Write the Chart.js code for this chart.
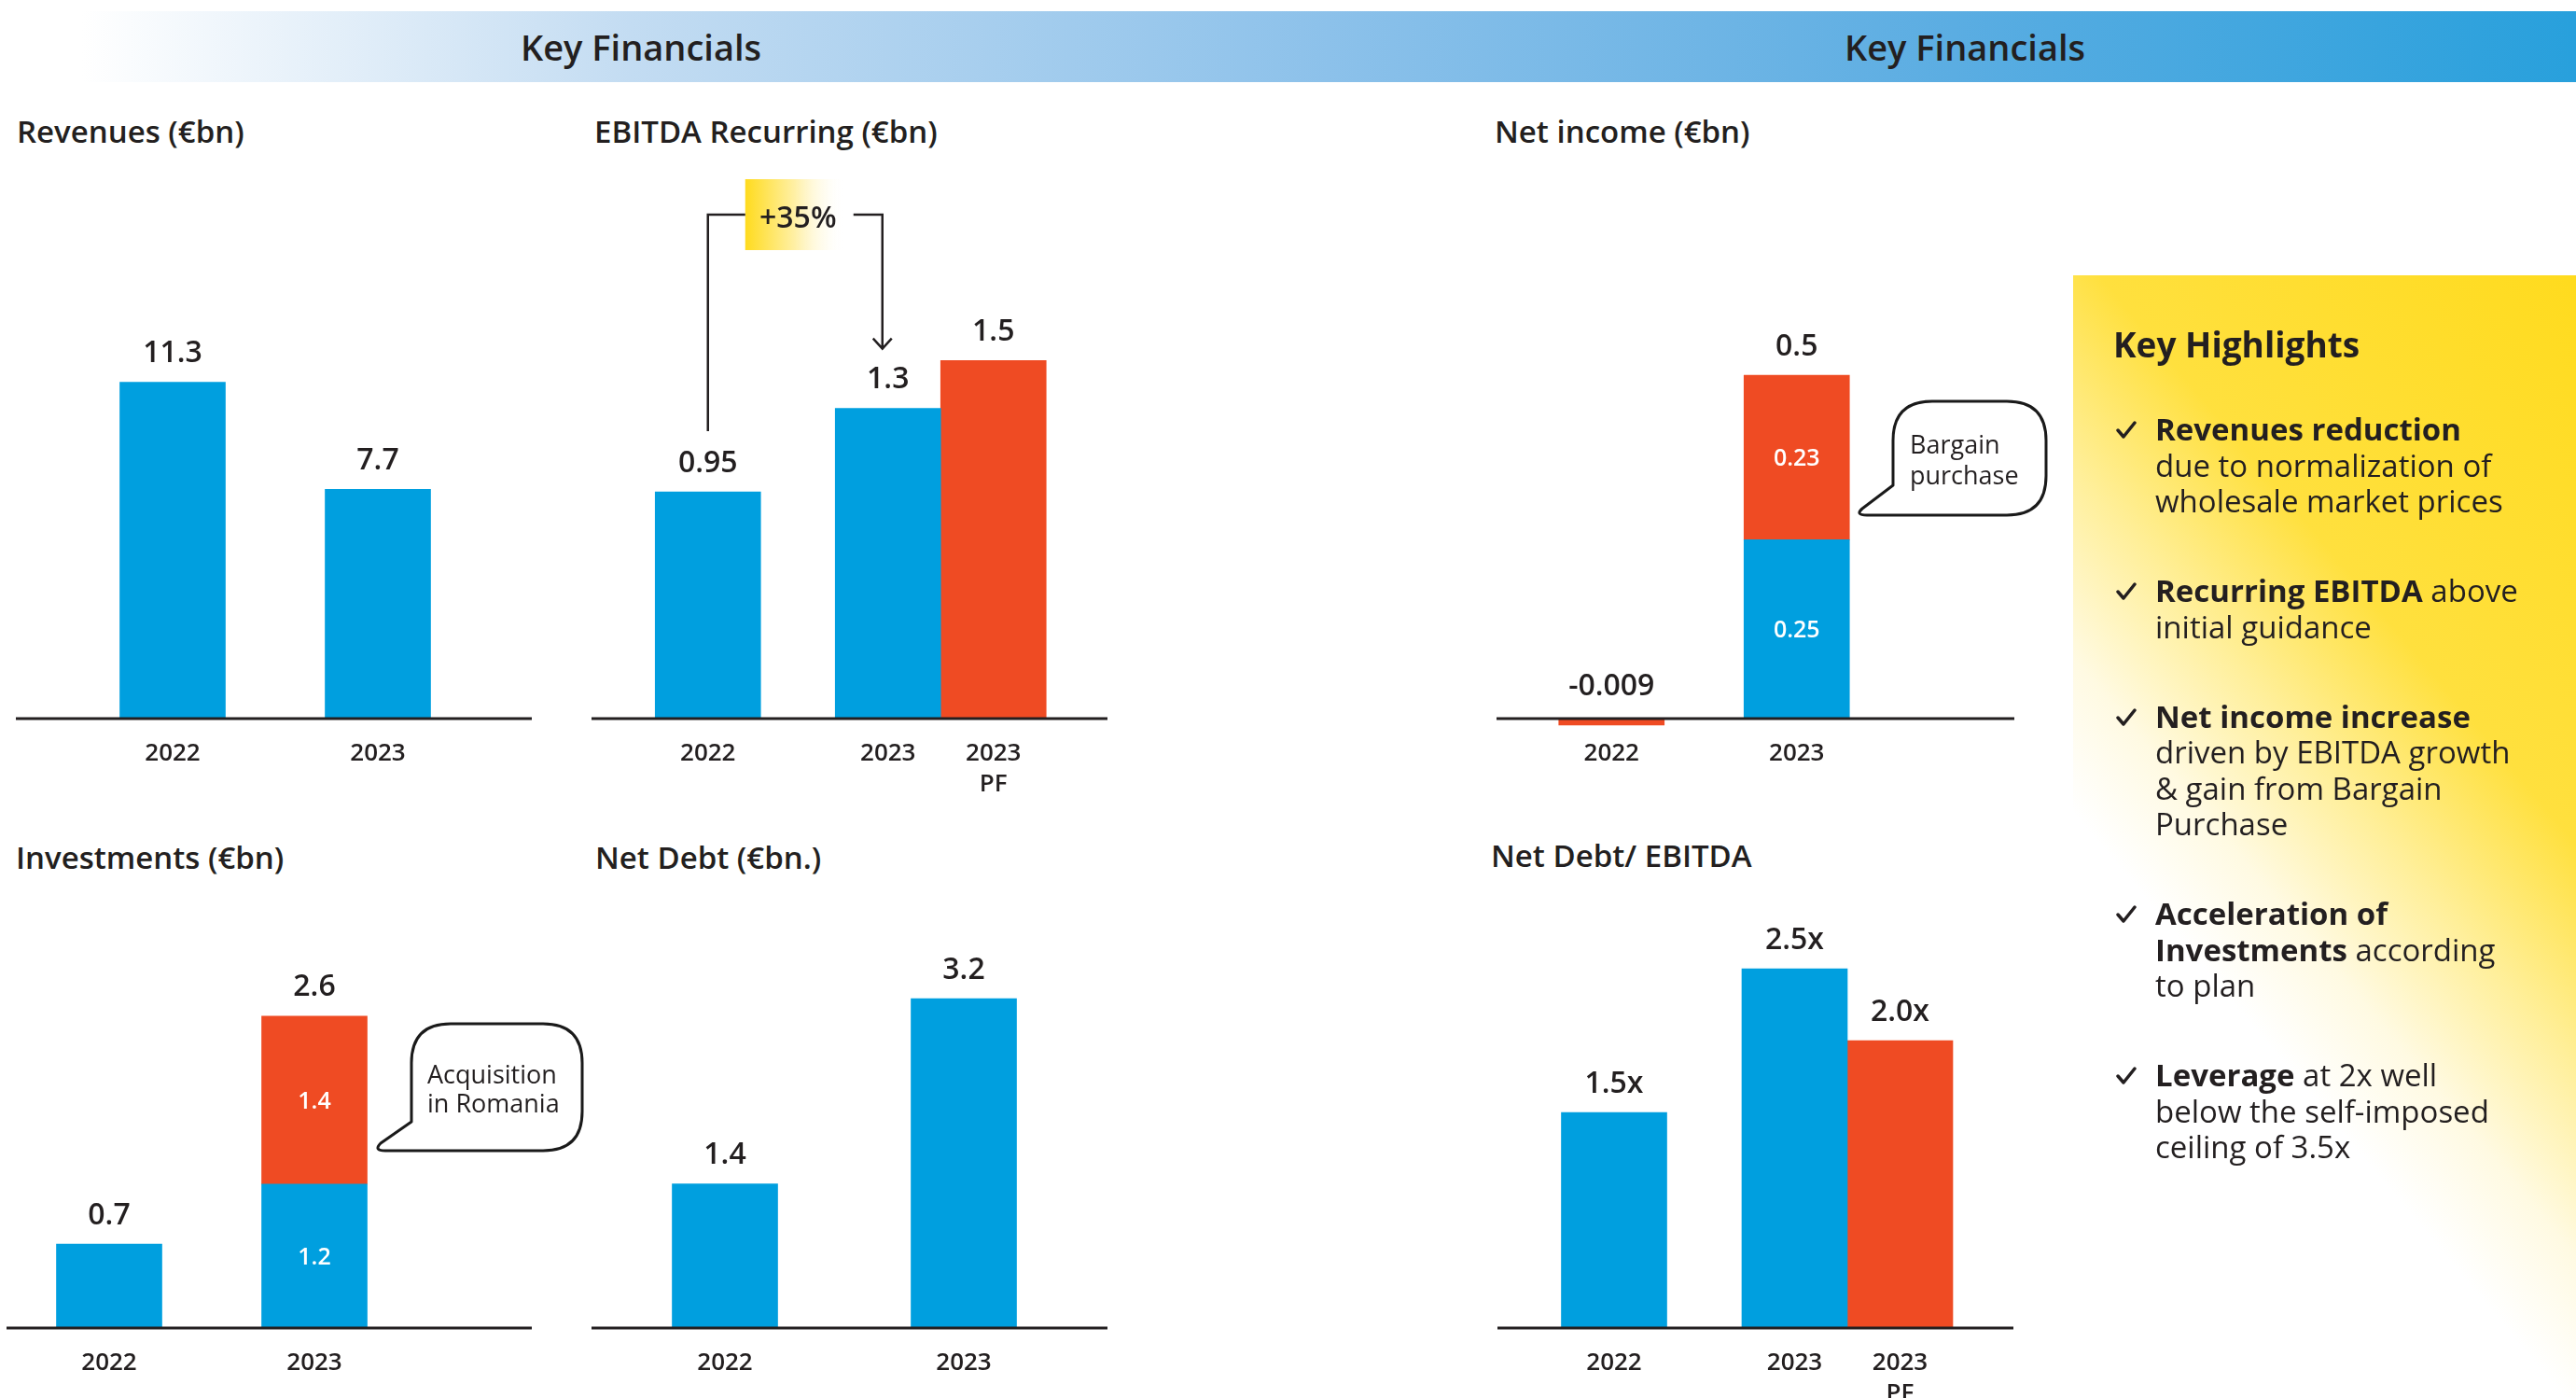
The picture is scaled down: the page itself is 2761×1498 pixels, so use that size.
<!DOCTYPE html>
<html lang="en">
<head>
<meta charset="UTF-8">
<title>Key Financials</title>
<script src="https://cdn.jsdelivr.net/npm/chart.js"></script>
<style>
  html, body { margin: 0; padding: 0; }
  body { width: 2761px; height: 1498px; position: relative; overflow: hidden; background: #fff;
         font-family: "Open Sans", sans-serif; color: #231f20; }
  .band { position: absolute; left: 88px; top: 12px; width: 2673px; height: 76px;
          background: linear-gradient(to right, #ffffff 0%, #c3dcf2 22%, #8cc1ea 50%, #5badE2 75%, #28a0dc 100%); }
  .band span { position: absolute; top: 0; line-height: 76px; font-size: 38px; font-weight: 600;
               transform: translateX(-50%); white-space: nowrap; }
  .title { position: absolute; font-size: 33px; font-weight: 600; line-height: 40px; white-space: nowrap; }
  canvas { position: absolute; display: block; }
  .hl { position: absolute; left: 2222px; top: 295px; width: 539px; height: 1203px;
        background: linear-gradient(230deg, #ffdb1e 0%, #ffe03e 33%, #ffef9a 46%, #fffae2 57%, #ffffff 66%); }
  .hl h3 { position: absolute; left: 43px; top: 49px; margin: 0; font-size: 37px; font-weight: 700; line-height: 50px; }
  .hl ul { position: absolute; left: 0; top: 146px; margin: 0; padding: 0; list-style: none; }
  .hl li { position: relative; padding-left: 88px; font-size: 33px; line-height: 38.5px; margin-bottom: 57.5px; white-space: nowrap; }
  .hl li b { font-weight: 700; }
  .hl li svg { position: absolute; left: 45px; top: 9px; }
  svg.notes { position: absolute; left: 0; top: 0; pointer-events: none; }
</style>
</head>
<body>
  <div class="band"><span style="left:599px">Key Financials</span><span style="left:2018px">Key Financials</span></div>

  <div class="title" style="left:18px; top:121px">Revenues (€bn)</div>
  <div class="title" style="left:637px; top:121px">EBITDA Recurring (€bn)</div>
  <div class="title" style="left:1602px; top:121px">Net income (€bn)</div>
  <div class="title" style="left:17px; top:899px">Investments (€bn)</div>
  <div class="title" style="left:638px; top:899px">Net Debt (€bn.)</div>
  <div class="title" style="left:1598px; top:897px">Net Debt/ EBITDA</div>

  <canvas id="rev" width="553" height="760" style="left:17px; top:100px"></canvas>
  <canvas id="ebitda" width="553" height="760" style="left:634px; top:100px"></canvas>
  <canvas id="netinc" width="555" height="760" style="left:1604px; top:100px"></canvas>
  <canvas id="inv" width="563" height="618" style="left:7px; top:880px"></canvas>
  <canvas id="debt" width="553" height="618" style="left:634px; top:880px"></canvas>
  <canvas id="lev" width="553" height="618" style="left:1605px; top:880px"></canvas>

  <svg class="notes" width="2761" height="1498">
    <g fill="#fff" stroke="#1a1a1a" stroke-width="3" stroke-linejoin="round">
      <path d="M483 1097 H582 Q624 1097 624 1139 V1191 Q624 1233 582 1233 H413 Q400 1233 408 1225 L441 1202 V1139 Q441 1097 483 1097 Z"/>
      <path d="M2071 430 H2151 Q2193 430 2193 472 V510 Q2193 552 2151 552 H2001 Q1988 552 1996 545 L2029 520 V472 Q2029 430 2071 430 Z"/>
    </g>
    <g font-family="Open Sans" font-size="27" fill="#231f20">
      <text x="458" y="1161">Acquisition</text>
      <text x="458" y="1192">in Romania</text>
      <text x="2047" y="486">Bargain</text>
      <text x="2047" y="519">purchase</text>
    </g>
  </svg>

  <div class="hl">
    <h3>Key Highlights</h3>
    <ul>
      <li><svg width="24" height="22"><path d="M3 11 L9 18 L21 3" fill="none" stroke="#231f20" stroke-width="3.5" stroke-linecap="round" stroke-linejoin="round"/></svg><b>Revenues reduction</b><br>due to normalization of<br>wholesale market prices</li>
      <li><svg width="24" height="22"><path d="M3 11 L9 18 L21 3" fill="none" stroke="#231f20" stroke-width="3.5" stroke-linecap="round" stroke-linejoin="round"/></svg><b>Recurring EBITDA</b> above<br>initial guidance</li>
      <li><svg width="24" height="22"><path d="M3 11 L9 18 L21 3" fill="none" stroke="#231f20" stroke-width="3.5" stroke-linecap="round" stroke-linejoin="round"/></svg><b>Net income increase</b><br>driven by EBITDA growth<br>&amp; gain from Bargain<br>Purchase</li>
      <li><svg width="24" height="22"><path d="M3 11 L9 18 L21 3" fill="none" stroke="#231f20" stroke-width="3.5" stroke-linecap="round" stroke-linejoin="round"/></svg><b>Acceleration of<br>Investments</b> according<br>to plan</li>
      <li><svg width="24" height="22"><path d="M3 11 L9 18 L21 3" fill="none" stroke="#231f20" stroke-width="3.5" stroke-linecap="round" stroke-linejoin="round"/></svg><b>Leverage</b> at 2x well<br>below the self-imposed<br>ceiling of 3.5x</li>
    </ul>
  </div>

<script>
  // ---- data ----
  const years = ['2022', '2023'];

  const revenues = [11.3, 7.7];

  const ebitdaRecurring = [0.95, 1.3];
  const ebitdaProForma = [null, 1.5];

  const netIncomeCore = [null, 0.25];
  const netIncomeBargain = [-0.009, 0.23];
  const netIncomeTotals = ['-0.009', '0.5'];

  const investOrganic = [0.7, 1.2];
  const investRomania = [null, 1.4];
  const investTotals = ['0.7', '2.6'];

  const netDebt = [1.4, 3.2];

  const leverage = [1.5, 2.5];
  const leverageProForma = [null, 2.0];

  const actualUnder = ['2022', '2023'];
  const proFormaUnder = [null, '2023\nPF'];
  const growthLabel = '+35%';

  // ---- style ----
  const INK = '#231f20';
  const BLUE = '#009fdf';
  const RED = '#ef4b23';
  Chart.defaults.font.family = '"Open Sans"';

  function say(ctx, str, x, cy, size, weight, color) {
    ctx.font = weight + ' ' + size + 'px "Open Sans"';
    ctx.fillStyle = color;
    ctx.fillText(str, x, cy + size * 0.36);
  }

  // baseline, value labels, year labels and the growth bracket
  const deco = {
    id: 'deco',
    afterDatasetsDraw(chart, args, opt) {
      const ctx = chart.ctx;
      const xs = chart.scales.x;
      const y0 = chart.scales.y.getPixelForValue(0);
      const sets = chart.data.datasets;
      const metas = sets.map((d, i) => chart.getDatasetMeta(i));
      const filled = i => sets.filter(d => d.data[i] != null).length;

      ctx.save();
      ctx.strokeStyle = INK;
      ctx.lineWidth = 3;
      ctx.beginPath();
      ctx.moveTo(0, y0);
      ctx.lineTo(chart.width, y0);
      ctx.stroke();
      ctx.textAlign = 'center';

      sets.forEach((ds, di) => {
        metas[di].data.forEach((bar, i) => {
          const v = ds.data[i];
          if (v == null) return;
          if (ds.under && ds.under[i]) {
            ds.under[i].split('\n').forEach((ln, k) => say(ctx, ln, bar.x, y0 + 36 + k * 33, 26, 600, INK));
          }
          if (opt.fmt) say(ctx, opt.fmt(v), bar.x, Math.min(bar.y, y0) - 33, 32, 600, INK);
          if (opt.inner && filled(i) > 1) say(ctx, String(v), bar.x, (bar.y + bar.base) / 2, 25, 600, '#fff');
        });
      });

      if (opt.cats) {
        chart.data.labels.forEach((lab, i) => say(ctx, lab, xs.getPixelForValue(i), y0 + 36, 26, 600, INK));
      }
      if (opt.tops) {
        opt.tops.forEach((t, i) => {
          let top = y0;
          metas.forEach((m, di) => { if (sets[di].data[i] != null) top = Math.min(top, m.data[i].y); });
          say(ctx, t, xs.getPixelForValue(i), top - (top >= y0 ? 37 : 33), 32, 600, INK);
        });
      }

      if (opt.bracket) {
        const br = opt.bracket;
        const a = metas[0].data[br.from], b = metas[0].data[br.to];
        const xa = a.x, xb = b.x - 6, top = br.top;
        const mid = (xa + xb) / 2;
        const bw = 107, bh = 76;
        const g = ctx.createLinearGradient(mid - bw / 2, 0, mid + bw / 2, 0);
        g.addColorStop(0, '#ffdb1e');
        g.addColorStop(0.5, '#fff0a6');
        g.addColorStop(1, 'rgba(255,255,255,0)');
        ctx.fillStyle = g;
        ctx.fillRect(mid - bw / 2, top - 38, bw, bh);
        ctx.lineWidth = 2.5;
        ctx.beginPath();
        ctx.moveTo(xa, a.y - 65);
        ctx.lineTo(xa, top);
        ctx.lineTo(mid - bw / 2, top);
        ctx.moveTo(mid + bw / 2 + 9, top);
        ctx.lineTo(xb, top);
        ctx.lineTo(xb, b.y - 64);
        ctx.moveTo(xb - 10, b.y - 75);
        ctx.lineTo(xb, b.y - 64);
        ctx.lineTo(xb + 10, b.y - 75);
        ctx.stroke();
        say(ctx, br.text, mid + 3, top + 2, 32, 600, INK);
      }
      ctx.restore();
    }
  };

  function barChart(id, datasets, o) {
    return new Chart(document.getElementById(id), {
      type: 'bar',
      data: { labels: years, datasets: datasets },
      options: {
        responsive: false,
        animation: false,
        layout: { padding: o.pad },
        datasets: { bar: { barThickness: 113, skipNull: true, clip: false, borderWidth: 0 } },
        scales: {
          x: { display: false, stacked: !!o.stacked },
          y: { display: false, stacked: !!o.stacked, min: 0, max: o.max }
        },
        plugins: { legend: { display: false }, tooltip: { enabled: false }, deco: o.deco }
      },
      plugins: [deco]
    });
  }

  const num = v => String(v);

  barChart('rev', [
    { data: revenues, backgroundColor: BLUE }
  ], { pad: { left: 58, right: 55, top: 0, bottom: 90 }, max: 21, deco: { fmt: num, cats: true } });

  barChart('ebitda', [
    { data: ebitdaRecurring, backgroundColor: BLUE, under: actualUnder },
    { data: ebitdaProForma, backgroundColor: RED, under: proFormaUnder }
  ], { pad: { left: 0, right: 54, top: 0, bottom: 90 }, max: 2.62,
       deco: { fmt: num, bracket: { from: 0, to: 1, top: 130, text: growthLabel } } });

  barChart('netinc', [
    { data: netIncomeCore, backgroundColor: BLUE },
    { data: netIncomeBargain, backgroundColor: RED }
  ], { pad: { left: 24, right: 134, top: 0, bottom: 90 }, max: 0.874, stacked: true,
       deco: { cats: true, inner: true, tops: netIncomeTotals } });

  barChart('inv', [
    { data: investOrganic, backgroundColor: BLUE },
    { data: investRomania, backgroundColor: RED }
  ], { pad: { left: 0, right: 123, top: 0, bottom: 75 }, max: 4.226, stacked: true,
       deco: { cats: true, inner: true, tops: investTotals } });

  barChart('debt', [
    { data: netDebt, backgroundColor: BLUE }
  ], { pad: { left: 15, right: 26, top: 0, bottom: 75 }, max: 4.923, deco: { fmt: num, cats: true } });

  barChart('lev', [
    { data: leverage, backgroundColor: BLUE, under: actualUnder },
    { data: leverageProForma, backgroundColor: RED, under: proFormaUnder }
  ], { pad: { left: 0, right: 53, top: 0, bottom: 75 }, max: 3.526,
       deco: { fmt: v => v.toFixed(1) + 'x' } });
</script>
</body>
</html>
